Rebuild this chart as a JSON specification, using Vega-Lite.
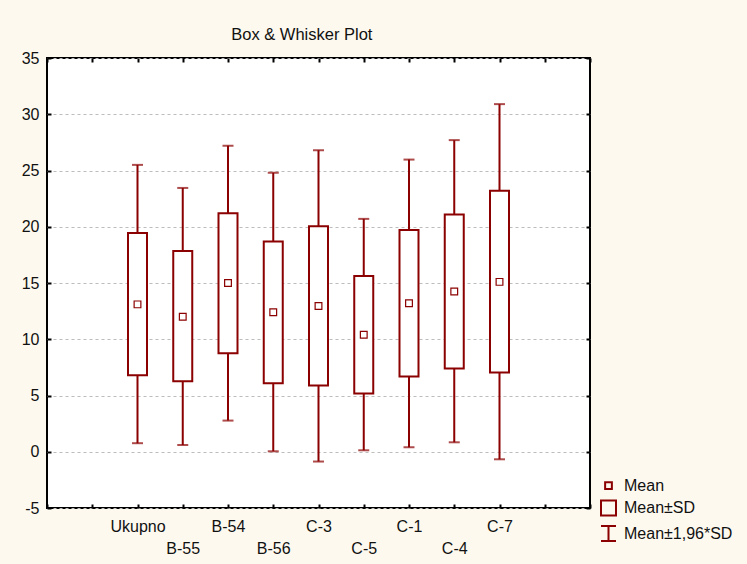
{
  "$schema": "https://vega.github.io/schema/vega-lite/v6.json",
  "autosize": "none",
  "width": 543,
  "height": 450,
  "padding": {"left": 47, "top": 58, "right": 157, "bottom": 56},
  "background": "#fdf9ef",
  "title": {"text": "Box & Whisker Plot", "anchor": "start", "dx": 210, "dy": 24, "offset": 18, "baseline": "alphabetic", "fontSize": 16.5, "fontWeight": "normal", "color": "#111", "font": "Liberation Sans"},
  "data": {"values": [
    {"group": "Ukupno", "mean": 13.1, "sdLow": 6.8, "sdHigh": 19.45, "lo": 0.76, "hi": 25.5},
    {"group": "B-55", "mean": 12.0, "sdLow": 6.27, "sdHigh": 17.85, "lo": 0.6, "hi": 23.45},
    {"group": "B-54", "mean": 15.0, "sdLow": 8.75, "sdHigh": 21.2, "lo": 2.77, "hi": 27.2},
    {"group": "B-56", "mean": 12.4, "sdLow": 6.1, "sdHigh": 18.7, "lo": 0.04, "hi": 24.8},
    {"group": "C-3", "mean": 12.95, "sdLow": 5.9, "sdHigh": 20.05, "lo": -0.87, "hi": 26.8},
    {"group": "C-5", "mean": 10.4, "sdLow": 5.17, "sdHigh": 15.63, "lo": 0.13, "hi": 20.7},
    {"group": "C-1", "mean": 13.2, "sdLow": 6.7, "sdHigh": 19.72, "lo": 0.4, "hi": 25.97},
    {"group": "C-4", "mean": 14.25, "sdLow": 7.4, "sdHigh": 21.1, "lo": 0.84, "hi": 27.7},
    {"group": "C-7", "mean": 15.1, "sdLow": 7.05, "sdHigh": 23.2, "lo": -0.67, "hi": 30.9}
  ]},
  "resolve": {"axis": {"x": "independent", "y": "independent"}},
  "layer": [
    {
      "mark": {"type": "rule", "color": "#8b0000", "strokeWidth": 2},
      "encoding": {
        "x": {"field": "group", "type": "nominal", "sort": null,
          "scale": {"type": "point", "padding": 0, "domain": ["a0", "a1", "Ukupno", "B-55", "B-54", "B-56", "C-3", "C-5", "C-1", "C-4", "C-7", "a2", "a3"]},
          "axis": {"title": null, "orient": "bottom", "domain": false, "grid": false, "labelAngle": 0, "tickSize": -4, "tickWidth": 2, "tickColor": "#000",
            "labelExpr": "indexof(['a0','a1','a2','a3'], datum.value) >= 0 ? '' : datum.value",
            "labelPadding": {"condition": {"test": "indexof(['B-55','B-56','C-5','C-4'], datum.value) >= 0", "value": 36}, "value": 14},
            "labelFontSize": 16, "labelFont": "Liberation Sans", "labelColor": "#111"}},
        "y": {"field": "lo", "type": "quantitative",
          "scale": {"domain": [-5, 35], "nice": false, "zero": false},
          "axis": {"title": null, "orient": "left", "domain": false, "values": [-5, 0, 5, 10, 15, 20, 25, 30, 35],
            "labelExpr": "toString(datum.value)", "tickSize": -4, "tickWidth": 2, "tickColor": "#000",
            "grid": true, "gridDash": [3, 3], "gridColor": "#bdbdbd", "gridWidth": 1,
            "labelPadding": 12, "labelFontSize": 16, "labelFont": "Liberation Sans", "labelColor": "#111"}},
        "y2": {"field": "hi"}
      }
    },
    {
      "mark": {"type": "tick", "color": "#8b0000", "orient": "horizontal", "size": 11, "thickness": 2},
      "encoding": {
        "x": {"field": "group", "type": "nominal", "sort": null,
          "axis": {"title": null, "orient": "top", "domain": false, "grid": false, "labels": false, "tickSize": -4, "tickWidth": 2, "tickColor": "#000"}},
        "y": {"field": "lo", "type": "quantitative",
          "axis": {"title": null, "orient": "right", "domain": false, "grid": false, "labels": false, "values": [-5, 0, 5, 10, 15, 20, 25, 30, 35], "tickSize": -4, "tickWidth": 2, "tickColor": "#000"}}
      }
    },
    {
      "mark": {"type": "tick", "color": "#8b0000", "orient": "horizontal", "size": 11, "thickness": 2},
      "encoding": {
        "x": {"field": "group", "type": "nominal", "sort": null, "axis": null},
        "y": {"field": "hi", "type": "quantitative", "axis": null}
      }
    },
    {
      "mark": {"type": "bar", "fill": "white", "stroke": "#8b0000", "strokeWidth": 2, "width": 19},
      "encoding": {
        "x": {"field": "group", "type": "nominal", "sort": null, "axis": null},
        "y": {"field": "sdLow", "type": "quantitative", "axis": null},
        "y2": {"field": "sdHigh"}
      }
    },
    {
      "mark": {"type": "point", "filled": false, "color": "#8b0000", "strokeWidth": 1.2, "size": 225, "opacity": 1},
      "encoding": {
        "x": {"field": "group", "type": "nominal", "sort": null, "axis": null},
        "y": {"field": "mean", "type": "quantitative", "axis": null},
        "shape": {"datum": "Mean",
          "scale": {"domain": ["Mean", "Mean±SD", "Mean±1,96*SD"],
            "range": ["M-0.45,-0.45H0.45V0.45H-0.45Z", "M-1,-1H1V1H-1Z", "M-1,-1H1M0,-1V1M-1,1H1"]},
          "legend": {"title": null, "orient": "none", "legendX": 553, "legendY": 419, "padding": 0,
            "symbolSize": 225, "symbolStrokeColor": "#8b0000", "symbolStrokeWidth": 2, "symbolOpacity": 1,
            "labelFontSize": 16, "labelFont": "Liberation Sans", "labelColor": "#111", "labelOffset": 7, "rowPadding": 2.5}}
      }
    }
  ],
  "config": {
    "view": {"fill": "white", "stroke": "#000", "strokeWidth": 2},
    "font": "Liberation Sans"
  }
}
